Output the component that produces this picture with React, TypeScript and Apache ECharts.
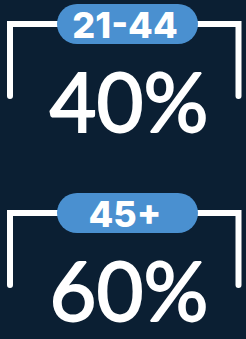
import React, { useEffect, useRef } from "react";
import * as echarts from "echarts";

const categories = ["21-44", "45+"];
const shares = [40, 60];

const BG = "#0b1f33";
const PILL = "#4a90d0";

export default function App() {
  const ref = useRef<HTMLDivElement>(null);
  useEffect(() => {
    document.body.style.margin = "0";
    const chart = echarts.init(ref.current!, null, { renderer: "svg" });
    const data = categories.map((c, i) => ({ name: c, value: [i, shares[i]] }));
    chart.setOption({
      animation: false,
      backgroundColor: BG,
      series: [
        {
          type: "custom",
          coordinateSystem: "none",
          data,
          renderItem: (params: any, api: any) => {
            const i = params.dataIndex;
            const y = 24 + i * 189;
            const left = 10;
            const right = 238.5;
            const pL = 57;
            const pR = 198;
            const ph = 40;
            return {
              type: "group",
              children: [
                {
                  type: "polyline",
                  shape: { points: [[pL + 5, y], [left, y], [left, y + 72]] },
                  style: { stroke: "#ffffff", lineWidth: 6, fill: null, lineCap: "round", lineJoin: "miter" },
                },
                {
                  type: "polyline",
                  shape: { points: [[pR - 5, y], [right, y], [right, y + 72]] },
                  style: { stroke: "#ffffff", lineWidth: 6, fill: null, lineCap: "round", lineJoin: "miter" },
                },
                {
                  type: "rect",
                  shape: { x: pL, y: y - ph / 2, width: pR - pL, height: ph, r: ph / 2 },
                  style: { fill: PILL },
                },
                {
                  type: "text",
                  x: 125,
                  y: y + 1,
                  style: {
                    text: categories[i],
                    fill: "#ffffff",
                    font: "800 36px Inter",
                    align: "center",
                    verticalAlign: "middle",
                  },
                },
                {
                  type: "text",
                  x: 129,
                  y: y + 76,
                  style: {
                    text: api.value(1) + "%",
                    fill: "#ffffff",
                    stroke: "#ffffff",
                    lineWidth: 1.8,
                    font: "normal 81px Lato",
                    align: "center",
                    verticalAlign: "middle",
                  },
                },
              ],
            };
          },
        },
      ],
    });
    return () => chart.dispose();
  }, []);
  return (
    <div
      ref={ref}
      style={{ position: "absolute", left: 0, top: 0, width: 246, height: 339 }}
    />
  );
}
